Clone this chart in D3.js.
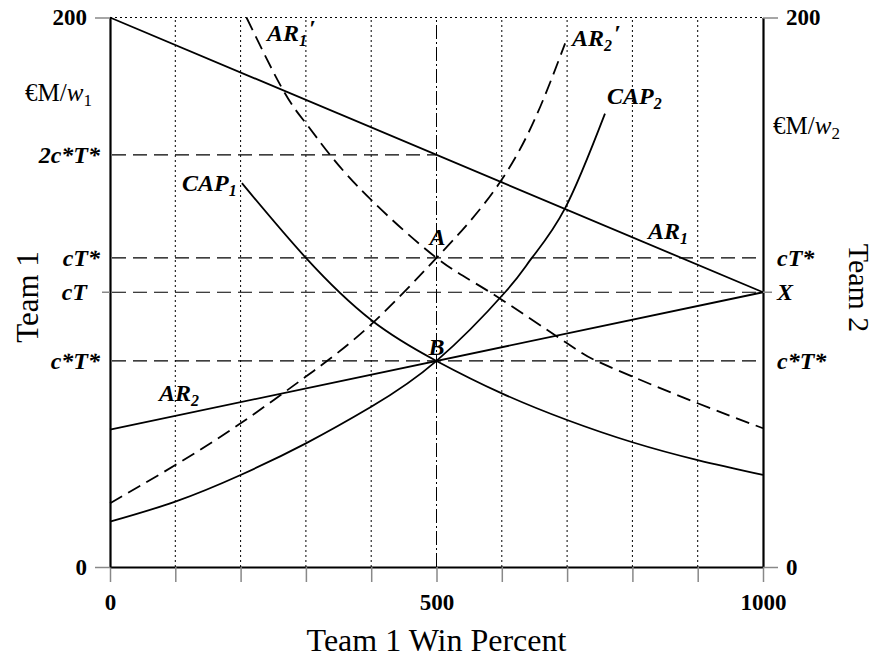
<!DOCTYPE html>
<html>
<head>
<meta charset="utf-8">
<script src="https://cdn.jsdelivr.net/npm/d3@7"></script>
<style>
  body { margin: 0; background: #fff; }
  svg { display: block; font-family: "Liberation Serif", "Times New Roman", serif; }
  .math { font-style: italic; font-weight: bold; font-size: 24px; }
</style>
</head>
<body>
<svg id="chart" width="877" height="663"></svg>
<script>
// win percent ticks (x) and money axis ticks (y)
const xTicks = [0, 100, 200, 300, 400, 500, 600, 700, 800, 900, 1000];
const xTickLabels = ['0', '', '', '', '', '500', '', '', '', '', '1000'];
const yTicks = [0, 200];

// reference levels on the money axis
const levelValues = [150, 112.5, 100, 75];
const levelLeftLabels = ['2c*T*', 'cT*', 'cT', 'c*T*'];
const levelRightLabels = ['', 'cT*', 'X', 'c*T*'];
const levelEnds = [500, 1000, 1000, 1000];

// curves as [win percent, money]
const ar1 = [[0, 200], [1000, 100]];
const ar2 = [[0, 50], [1000, 100]];
const ar1Prime = [[209, 200], [265, 173.6], [300, 161.5], [337, 150], [400, 133.6], [500, 112.5],
  [582, 100], [700, 81.4], [745, 75], [800, 69.3], [900, 59.6], [1000, 50.5]];
const ar2Prime = [[0, 23.2], [100, 37.1], [200, 52.3], [300, 69.3], [400, 88.3], [500, 112.5],
  [550, 125.5], [600, 141], [650, 162.7], [697, 190.6]];
const cap1 = [[202, 139.7], [300, 112.5], [400, 89.9], [500, 75], [600, 63.2], [700, 53.5],
  [800, 45.4], [900, 38.9], [1000, 33.5]];
const cap2 = [[0, 16.5], [100, 23.8], [200, 33.5], [300, 45], [400, 58.3], [500, 75],
  [605, 100], [646, 112.5], [697, 130.6], [758, 165]];

const svg = d3.select('svg#chart');
const x = d3.scaleLinear().domain([0, 1000]).range([110, 763]);
const y = d3.scaleLinear().domain([0, 200]).range([567, 17.5]);

// dotted grid
svg.append('g')
  .selectAll('line')
  .data(xTicks.filter((d) => d !== 0 && d !== 1000 && d !== 500))
  .enter()
  .append('line')
  .attr('x1', (d) => x(d)).attr('x2', (d) => x(d))
  .attr('y1', y(0)).attr('y2', y(200))
  .attr('stroke', '#000').attr('stroke-width', 1).attr('stroke-dasharray', '2,3');

svg.append('line')
  .attr('x1', x(0)).attr('x2', x(1000))
  .attr('y1', y(200)).attr('y2', y(200))
  .attr('stroke', '#000').attr('stroke-width', 1).attr('stroke-dasharray', '2,3');

// the 500 line
svg.append('line')
  .attr('x1', x(500)).attr('x2', x(500))
  .attr('y1', y(0)).attr('y2', y(200))
  .attr('stroke', '#000').attr('stroke-width', 1).attr('stroke-dasharray', '14,3,2,3');

// dashed reference levels
svg.append('g')
  .selectAll('line')
  .data(levelValues)
  .enter()
  .append('line')
  .attr('x1', x(0) + 2).attr('x2', (d, i) => x(levelEnds[i]))
  .attr('y1', (d) => y(d)).attr('y2', (d) => y(d))
  .attr('stroke', '#000').attr('stroke-width', 1.2).attr('stroke-dasharray', '14,7');

// curves
const line = d3.line().x((d) => x(d[0])).y((d) => y(d[1])).curve(d3.curveNatural);
const curves = [
  { data: ar1, dash: null },
  { data: ar2, dash: null },
  { data: cap1, dash: null },
  { data: cap2, dash: null },
  { data: ar1Prime, dash: '14,7' },
  { data: ar2Prime, dash: '14,7' },
];
svg.append('g')
  .selectAll('path')
  .data(curves)
  .enter()
  .append('path')
  .attr('d', (d) => line(d.data))
  .attr('fill', 'none')
  .attr('stroke', '#000')
  .attr('stroke-width', 1.8)
  .attr('stroke-dasharray', (d) => d.dash);

// axes
const bottom = svg.append('g')
  .attr('transform', `translate(0,${y(0)})`)
  .call(d3.axisBottom(x).tickValues(xTicks).tickSize(15).tickSizeOuter(0).tickPadding(12)
    .tickFormat((d, i) => xTickLabels[i]));
const left = svg.append('g')
  .attr('transform', `translate(${x(0)},0)`)
  .call(d3.axisLeft(y).tickValues(yTicks).tickSize(15).tickSizeOuter(0).tickPadding(8));
const right = svg.append('g')
  .attr('transform', `translate(${x(1000)},0)`)
  .call(d3.axisRight(y).tickValues(yTicks).tickSize(15).tickSizeOuter(0).tickPadding(8));

[bottom, left, right].forEach((g) => {
  g.select('.domain').attr('stroke', '#000').attr('stroke-width', 2.2);
  g.selectAll('.tick line').attr('stroke', '#888').attr('stroke-width', 1.5);
  g.selectAll('.tick text')
    .attr('fill', '#000')
    .style('font-family', '"Liberation Serif", serif')
    .style('font-weight', 'bold')
    .style('font-size', '23px');
});

// small ticks at cT and X
svg.append('line').attr('x1', x(0) - 8).attr('x2', x(0)).attr('y1', y(100)).attr('y2', y(100))
  .attr('stroke', '#888').attr('stroke-width', 1.5);
svg.append('line').attr('x1', x(1000)).attr('x2', x(1000) + 9).attr('y1', y(100)).attr('y2', y(100))
  .attr('stroke', '#888').attr('stroke-width', 1.5);

// text with subscript and prime
function label(px, py, main, sub, prime, anchor) {
  const t = svg.append('text')
    .attr('x', px).attr('y', py)
    .attr('class', 'math')
    .attr('text-anchor', anchor || 'start');
  t.append('tspan').text(main);
  if (sub) t.append('tspan').attr('dy', 5).style('font-size', '16px').text(sub);
  if (prime) t.append('tspan').attr('dy', -10).attr('dx', 2).text('′');
  return t;
}

// left / right level labels
levelValues.forEach((v, i) => {
  const lx = levelLeftLabels[i] === 'cT' ? 87 : 100;
  label(lx, y(v) + 8, levelLeftLabels[i], null, false, 'end');
  if (levelRightLabels[i]) label(777, y(v) + 8, levelRightLabels[i], null, false, 'start');
});

// curve labels
label(267, 41, 'AR', '1', true);
label(572, 46, 'AR', '2', true);
label(607, 104, 'CAP', '2', false);
label(648, 239, 'AR', '1', false);
label(182, 191, 'CAP', '1', false);
label(159, 401, 'AR', '2', false);
label(x(500) - 7, y(112.5) - 13, 'A', null, false);
label(x(500) - 8, y(75) - 6, 'B', null, false);

// unit labels
function unit(px, py, sub) {
  const t = svg.append('text').attr('x', px).attr('y', py).style('font-size', '25px');
  t.append('tspan').text('€M/');
  t.append('tspan').style('font-style', 'italic').text('w');
  t.append('tspan').attr('dy', 5).style('font-size', '17px').text(sub);
}
unit(25, 101, '1');
unit(773, 134, '2');

// axis titles
svg.append('text')
  .attr('x', x(500)).attr('y', 651)
  .attr('text-anchor', 'middle')
  .style('font-size', '32px')
  .text('Team 1 Win Percent');
svg.append('text')
  .attr('transform', `translate(38,${297}) rotate(-90)`)
  .attr('text-anchor', 'middle')
  .style('font-size', '31px')
  .text('Team 1');
svg.append('text')
  .attr('transform', `translate(849,${288}) rotate(90)`)
  .attr('text-anchor', 'middle')
  .style('font-size', '30px')
  .text('Team 2');
</script>
</body>
</html>
